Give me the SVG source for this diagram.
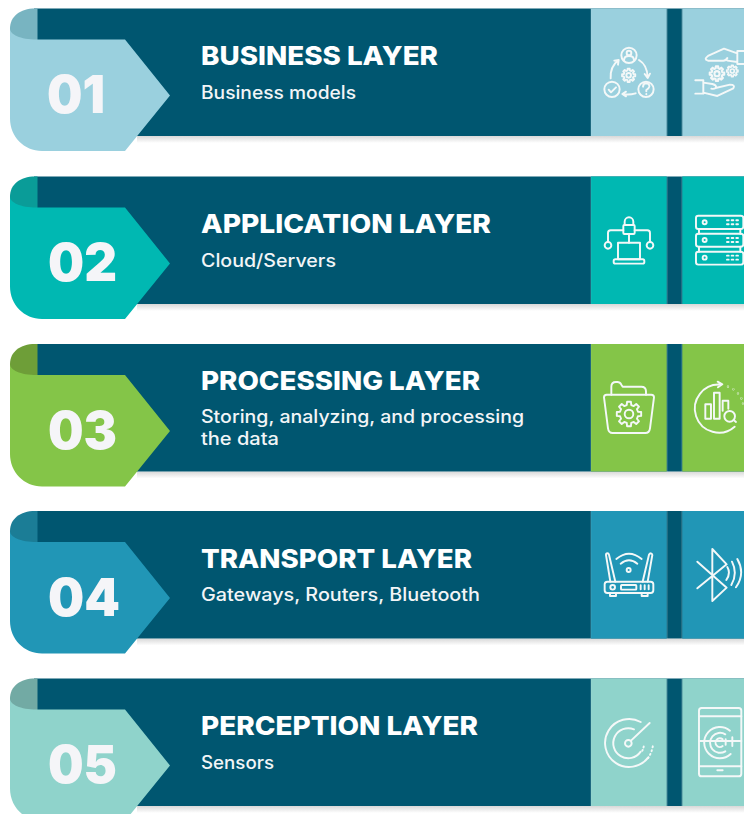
<svg xmlns="http://www.w3.org/2000/svg" xmlns:xlink="http://www.w3.org/1999/xlink" width="744" height="814" viewBox="0 0 744 814">
<style>
.band{fill:#005670}
.title{font-family:Inter,"Liberation Sans",sans-serif;font-weight:800;font-size:26px;fill:#fff}
.sub{font-family:Inter,"Liberation Sans",sans-serif;font-weight:500;font-size:18px;fill:#f2f5f7}
.num{font-family:Inter,"Liberation Sans",sans-serif;font-weight:900;font-size:52px;fill:#f5f5f8}
.ico{fill:none;stroke:#f4f8f8;stroke-width:5.8;stroke-linecap:round;stroke-linejoin:round}
.edge{fill:#fff;opacity:.2}
.c1{fill:#9AD0DE}.f1{fill:#78B4C1}
.c2{fill:#00B8B2}.f2{fill:#0A9C98}
.c3{fill:#84C548}.f3{fill:#6E9E38}
.c4{fill:#2196B6}.f4{fill:#1B7D96}
.c5{fill:#8FD3CB}.f5{fill:#72AAA4}
</style>
<defs>
<linearGradient id="sh" x1="0" y1="0" x2="0" y2="1"><stop offset="0" stop-color="#d8d8d8"/><stop offset="1" stop-color="#fff"/></linearGradient>
<g id="gear"><path d="M-3.63-14.55L-3.13-19.75L3.13-19.75L3.63-14.55L7.73-12.86L11.76-16.18L16.18-11.76L12.86-7.73L14.55-3.63L19.75-3.13L19.75 3.13L14.55 3.63L12.86 7.73L16.18 11.76L11.76 16.18L7.73 12.86L3.63 14.55L3.13 19.75L-3.13 19.75L-3.63 14.55L-7.73 12.86L-11.76 16.18L-16.18 11.76L-12.86 7.73L-14.55 3.63L-19.75 3.13L-19.75-3.13L-14.55-3.63L-12.86-7.73L-16.18-11.76L-11.76-16.18L-7.73-12.86Z"/><circle r="7"/></g>
<g id="frame">
<rect x="137" y="127.5" width="607" height="7" fill="url(#sh)"/>
<rect class="band" x="34" y="0" width="710" height="127.5"/>
</g>
<path id="fold" d="M37.5 0H35C20 0 10 8 10 20V34H37.5Z"/>
<path id="tab" d="M10 20C10 26 20 31 37 31H125L170 87L125 142.5H42C24 142.5 10 128 10 110Z"/>
<g id="panels">
<rect x="591" y="0" width="75.7" height="127.5"/><rect x="682.3" y="0" width="61.7" height="127.5"/>
<rect class="edge" x="666.7" width="1" height="127.5"/><rect class="edge" x="681.3" width="1" height="127.5"/><rect class="edge" x="590.4" width=".8" height="127.5"/>
</g>
</defs>

<g id="connectors"></g>

<g id="node-01" transform="translate(0,8.5)">
<use href="#frame"/><use href="#fold" class="f1"/><use href="#tab" class="c1"/><use href="#panels" class="c1"/>
<text class="num" x="47" y="104" textLength="58" lengthAdjust="spacingAndGlyphs">01</text>
<text class="title" x="201" y="56.5" textLength="237" lengthAdjust="spacingAndGlyphs">BUSINESS LAYER</text>
<text class="sub" x="201" y="90" textLength="155" lengthAdjust="spacingAndGlyphs">Business models</text>
</g>

<g id="node-02" transform="translate(0,176.5)">
<use href="#frame"/><use href="#fold" class="f2"/><use href="#tab" class="c2"/><use href="#panels" class="c2"/>
<text class="num" x="48" y="104" textLength="69" lengthAdjust="spacingAndGlyphs">02</text>
<text class="title" x="201" y="56.5" textLength="290" lengthAdjust="spacingAndGlyphs">APPLICATION LAYER</text>
<text class="sub" x="201" y="90" textLength="135" lengthAdjust="spacingAndGlyphs">Cloud/Servers</text>
</g>

<g id="node-03" transform="translate(0,344)">
<use href="#frame"/><use href="#fold" class="f3"/><use href="#tab" class="c3"/><use href="#panels" class="c3"/>
<text class="num" x="48" y="105" textLength="69" lengthAdjust="spacingAndGlyphs">03</text>
<text class="title" x="201" y="45.5" textLength="279" lengthAdjust="spacingAndGlyphs">PROCESSING LAYER</text>
<text class="sub" x="201" y="78.5" textLength="323" lengthAdjust="spacingAndGlyphs">Storing, analyzing, and processing</text>
<text class="sub" x="201" y="100.5" textLength="78" lengthAdjust="spacingAndGlyphs">the data</text>
</g>

<g id="node-04" transform="translate(0,511)">
<use href="#frame"/><use href="#fold" class="f4"/><use href="#tab" class="c4"/><use href="#panels" class="c4"/>
<text class="num" x="48" y="104.5" textLength="72" lengthAdjust="spacingAndGlyphs">04</text>
<text class="title" x="201" y="57" textLength="271" lengthAdjust="spacingAndGlyphs">TRANSPORT LAYER</text>
<text class="sub" x="201" y="90" textLength="279" lengthAdjust="spacingAndGlyphs">Gateways, Routers, Bluetooth</text>
</g>

<g id="node-05" transform="translate(0,678.5)">
<use href="#frame"/><use href="#fold" class="f5"/><use href="#tab" class="c5"/><use href="#panels" class="c5"/>
<text class="num" x="48" y="104.5" textLength="69" lengthAdjust="spacingAndGlyphs">05</text>
<text class="title" x="201" y="56.5" textLength="277" lengthAdjust="spacingAndGlyphs">PERCEPTION LAYER</text>
<text class="sub" x="201" y="90" textLength="73" lengthAdjust="spacingAndGlyphs">Sensors</text>
</g>

<g id="icons-01" class="ico" transform="translate(584,0) scale(.3333)">
<circle cx="135" cy="166" r="23"/><circle cx="135" cy="159" r="7"/><path d="M120 181Q120 168 135 168Q150 168 150 181"/>
<path d="M80 235Q78 200 103 181M91 182L104 180L102 194"/>
<path d="M165 180Q190 195 191 232M182 222L191 234L198 221"/>
<path d="M155 280Q135 286 116 282M126 275L115 282L126 289"/>
<circle cx="84" cy="268" r="23"/><path d="M74 269L81 277L96 262"/>
<circle cx="186" cy="268" r="23"/><path d="M177 260Q178 250 187 250Q197 251 196 260Q195 265 187 270V274M187 282V283"/>
<use href="#gear" transform="translate(134,226)"/>
<path d="M480 153H460V192H480M460 160L420 146L372 168Q358 178 372 182H418Q426 182 430 174M430 182L460 186"/>
<path d="M334 241H358V281H334M358 248L385 252Q400 256 395 264Q390 268 382 266M395 264L438 254Q455 254 448 265L400 288L358 278"/>
<use href="#gear" transform="translate(399,221) scale(1.1)"/>
<use href="#gear" transform="translate(445,213) scale(.85)"/>
</g>

<g id="icons-02" class="ico" transform="translate(584,170) scale(.3333)">
<path d="M122 165V155A13 13 0 0 1 148 155V165"/><rect x="118" y="165" width="34" height="27" rx="3"/>
<path d="M118 181H80Q72 181 72 189V216M152 181H190Q198 181 198 189V216M135 192V218"/>
<circle cx="72" cy="226" r="10"/><circle cx="198" cy="226" r="10"/>
<rect x="102" y="218" width="66" height="50"/><rect x="89" y="268" width="92" height="13" rx="5"/>
<rect x="336" y="137" width="142" height="40" rx="7"/><rect x="336" y="191" width="142" height="39" rx="7"/><rect x="336" y="245" width="142" height="39" rx="7"/>
<path d="M345 177V191M469 177V191M345 230V245M469 230V245"/>
<circle cx="362" cy="157" r="6"/><circle cx="362" cy="210" r="6"/><circle cx="362" cy="263" r="6"/>
<path d="M429 151H434M443 151H448M457 151H462M429 163H434M443 163H448M457 163H462M429 204H434M443 204H448M457 204H462M429 216H434M443 216H448M457 216H462M429 257H434M443 257H448M457 257H462M429 269H434M443 269H448M457 269H462"/>
</g>

<g id="icons-03" class="ico" transform="translate(584,340) scale(.3333)">
<path d="M68 164H202Q210 164 210 172L198 265Q196 279 184 279H86Q74 279 72 265L60 172Q60 164 68 164Z"/>
<path d="M82 164V140Q82 126 96 126H100Q108 126 112 134L116 140H172Q186 140 186 154V164"/>
<use href="#gear" transform="translate(135,222) scale(1.85)" style="stroke-width:3.1"/>
<path d="M410 134A72 72 0 1 0 452 260M401 125L415 133L402 142"/>
<circle cx="432" cy="140" r=".6"/><circle cx="448" cy="148" r=".6"/><circle cx="462" cy="160" r=".6"/><circle cx="472" cy="175" r=".6"/><circle cx="477" cy="191" r=".6"/>
<rect x="364" y="193" width="17" height="43"/><rect x="390" y="158" width="17" height="78"/><path d="M416 212V182H433V206"/>
<circle cx="437" cy="229" r="16"/><path d="M449 240L456 246"/>
</g>

<g id="icons-04" class="ico" transform="translate(584,505) scale(.3333)">
<rect x="62" y="230" width="146" height="34" rx="8"/><circle cx="86" cy="247" r="7"/><rect x="111" y="240" width="46" height="14" rx="2"/>
<path d="M170 241V253M182 241V253M194 241V253M78 264V273H96V264M173 264V273H191V264"/>
<path d="M79 230L66 150Q66 145 70 145Q74 145 75 149L94 230M176 230L195 149Q197 145 201 145Q205 146 205 150L191 230"/>
<path d="M97 162Q135 130 173 162M110 176Q135 155 160 176"/><circle cx="134" cy="195" r="6"/>
<path d="M340 170L428 248L385 288V132L428 178L340 250"/>
<path d="M427 225Q441 205 430 186M442 240Q462 205 444 170M456 247Q485 205 460 162"/>
</g>

<g id="icons-05" class="ico" transform="translate(584,674) scale(.3333)">
<path d="M170 144A72 72 0 1 0 193 250"/><path d="M150 166A45 45 0 1 0 170 233"/>
<circle cx="133" cy="208" r="10"/><path d="M141 200L197 147"/>
<path d="M175 230Q178 224 180 214" stroke-dasharray="3 8"/><path d="M192 253Q204 235 207 213" stroke-dasharray="3 9"/>
<rect x="345" y="102" width="127" height="205" rx="8"/><path d="M345 127H472M345 277H472M400 289H416M345 201H472"/>
<path d="M438 170A47 47 0 1 0 440 240M424 181A30 30 0 1 0 424 232M416 196A13 13 0 1 0 416 216"/>
<path d="M445 190V216M425 196V212"/>
</g>
</svg>
